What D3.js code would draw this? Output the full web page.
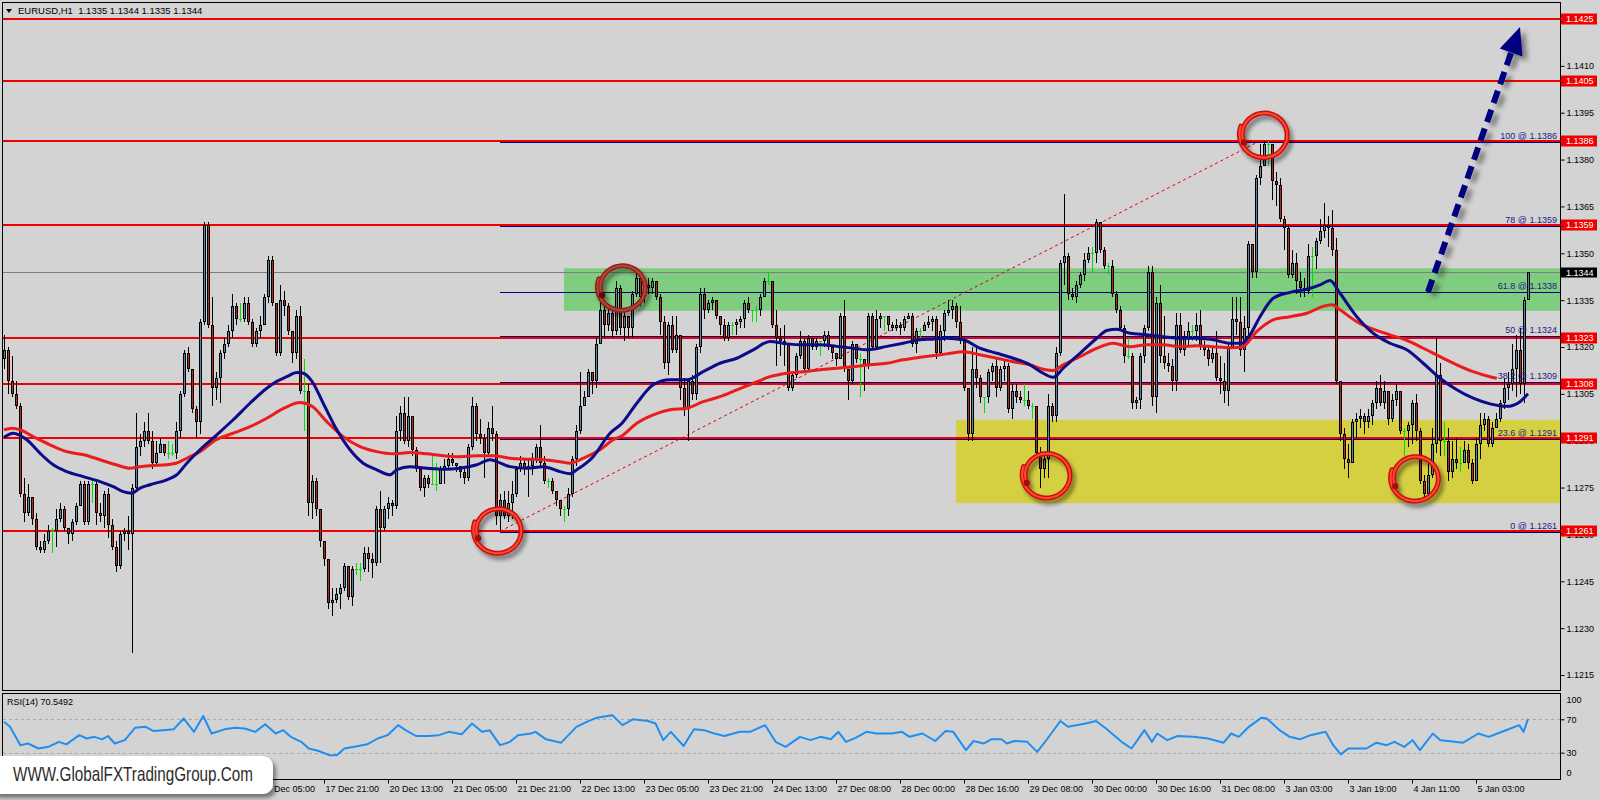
<!DOCTYPE html>
<html><head><meta charset="utf-8">
<script src="https://cdn.jsdelivr.net/npm/d3@7"></script>
<style>
html,body{margin:0;padding:0;background:#d3d3d3;}
svg{display:block;}
text{font-family:"Liberation Sans",Arial,sans-serif;white-space:pre;}
</style></head><body>
<svg id="chart" width="1600" height="800"></svg>
<script>
// ---- DATA (prices in pips above 1.1000, i.e. 319 = 1.1319) ----
const PIP_BASE = 1.1000;
const opens = [
316,319,309,305,301,273,267,272,265,256, 255,258,261,261,265,268,262,260,264,269,
276,264,276,276,267,266,273,263,256,250, 260,261,260,275,288,290,293,290,283,286,
289,286,286,286,293,305,318,313,300,296, 328,359,327,307,310,318,321,325,333,329,
329,334,328,321,325,327,336,348,334,318, 335,333,325,318,330,306,306,270,277,268,
258,252,238,239,241,243,250,240,249,249, 249,254,252,251,268,262,268,270,269,293,
299,290,298,287,281,275,278,276,276,276, 281,282,284,283,282,280,278,288,301,292,
291,286,294,292,266,271,266,270,273,281, 283,281,282,284,288,283,277,277,274,271,
268,268,273,284,293,301,304,312,309,321, 332,327,331,325,339,326,330,326,337,342,
336,340,339,341,336,328,315,327,319,324, 307,300,309,305,320,337,332,334,335,330,
327,323,327,327,328,329,334,332,332,332, 336,341,341,327,323,322,321,307,311,317,
322,313,323,320,322,322,324,320,318,316, 330,313,309,321,316,316,314,330,320,329,
330,330,327,326,327,326,329,330,321,325, 325,327,328,329,318,325,331,332,333,328,
322,307,292,313,310,304,304,312,314,307, 313,314,300,306,304,303,303,301,301,286,
281,284,301,298,318,347,349,337,336,340, 343,348,350,350,360,351,346,346,337,332,
326,317,317,302,303,317,326,344,304,334, 317,315,314,309,327,319,323,325,325,327,
320,319,316,318,310,309,306,320,329,328, 319,326,353,344,374,378,385,385,373,372,
361,358,343,347,341,339,338,349,349,354, 357,359,358,351,309,292,284,283,296,297,
298,296,298,302,307,302,306,297,303,306, 293,293,295,302,293,277,273,279,289,311,
290,290,280,284,283,283,287,283,277,289, 295,297,289,294,297,302,307,308,313,319,
308,335];
const highs = [
324,320,317,309,302,278,276,272,267,258, 260,263,262,268,270,269,262,265,270,277,
277,277,277,277,270,274,275,265,258,261, 262,266,276,299,292,296,299,293,290,291,
289,290,289,296,306,319,320,313,301,329, 360,360,336,312,319,323,327,337,334,334,
336,336,329,326,330,337,349,349,334,340, 338,334,325,332,333,316,308,279,278,268,
258,252,243,243,244,251,250,250,251,251, 256,256,254,269,274,269,272,271,298,301,
304,304,298,288,281,279,279,285,283,282, 284,286,286,283,282,281,289,304,302,297,
292,296,301,293,273,274,274,277,282,285, 284,284,286,289,295,285,278,278,274,271,
269,275,285,295,312,306,313,312,323,335, 333,333,333,341,340,332,330,338,344,343,
342,342,342,341,337,330,328,330,330,324, 310,310,311,321,339,339,335,336,335,330,
329,328,328,329,330,335,336,332,333,337, 342,344,341,332,326,327,321,312,318,325,
323,324,323,323,322,325,325,320,318,331, 335,313,322,321,318,316,331,331,332,331,
330,330,328,329,328,330,331,331,326,326, 328,330,330,330,327,332,335,335,334,333,
323,307,320,320,311,304,313,315,316,314, 316,315,308,308,306,308,306,302,301,288,
285,305,302,320,348,369,350,339,341,344, 350,352,352,361,360,352,347,348,338,333,
327,323,318,304,318,327,346,346,336,340, 330,318,316,331,331,325,328,327,331,332,
322,320,320,325,317,315,321,336,336,336, 330,354,353,375,385,386,386,385,376,374,
362,359,351,350,344,342,353,352,355,361, 366,362,364,355,309,294,289,297,299,300,
299,300,303,309,311,309,306,305,308,306, 294,296,303,305,294,279,283,294,323,315,
296,294,290,291,288,290,289,284,291,299, 299,298,296,299,303,310,312,321,324,326,
336,344];
const lows = [
313,305,304,300,272,264,266,263,255,254, 254,257,254,256,264,261,257,258,263,269,
263,263,270,263,264,262,259,255,248,249, 258,255,222,274,285,288,289,281,282,286,
285,284,285,284,291,304,312,299,291,292, 327,326,301,303,302,316,320,323,327,328,
328,327,320,320,323,327,334,333,317,317, 330,324,315,316,305,293,266,265,266,256,
250,236,234,238,236,242,239,237,247,245, 248,248,246,250,251,261,265,266,268,290,
289,288,285,280,274,272,275,276,274,276, 276,281,282,280,278,276,277,287,290,289,
278,285,290,263,261,265,264,265,272,280, 279,272,279,283,282,276,275,273,269,266,
264,266,272,282,292,301,304,305,307,321, 323,325,323,324,324,322,323,323,336,333,
334,337,337,335,324,313,311,318,318,303, 298,290,303,303,318,329,331,332,329,324,
322,322,324,324,326,326,331,328,328,330, 336,340,326,314,317,314,306,306,310,316,
312,312,319,319,317,320,319,316,314,316, 312,303,308,315,304,306,313,319,319,326,
325,325,325,325,324,325,329,320,318,323, 325,326,325,316,317,322,330,329,326,321,
306,290,290,307,302,299,302,309,304,306, 309,299,297,302,302,301,300,297,285,275,
278,278,296,296,317,340,335,335,334,339, 341,347,344,347,350,345,343,336,331,325,
315,316,300,300,300,315,325,301,299,315, 313,312,306,306,318,317,320,322,322,319,
317,314,315,309,305,302,301,320,324,317, 312,323,342,342,372,378,378,367,365,360,
351,342,342,337,336,336,337,336,345,353, 355,352,349,308,290,281,278,283,291,294,
292,294,295,300,301,300,295,296,301,292, 285,288,289,290,276,271,272,278,286,285,
285,277,278,281,280,283,281,276,277,284, 293,288,288,294,296,300,303,306,304,305,
302,335];
const closes = [
319,309,305,301,273,267,272,265,256,255, 258,261,261,265,268,262,260,264,269,276,
264,276,276,267,266,273,263,256,250,260, 261,260,275,288,290,293,290,283,286,289,
286,286,286,293,305,318,313,300,296,328, 359,327,307,310,318,321,325,333,329,329,
334,328,321,325,327,336,348,334,318,335, 333,325,318,330,306,306,270,277,268,258,
252,238,239,241,243,250,240,249,249,249, 254,252,251,268,262,268,270,269,293,299,
290,298,287,281,275,278,276,276,276,281, 282,284,283,282,280,278,288,301,292,291,
286,294,292,266,271,266,270,273,281,283, 281,282,284,288,283,277,277,274,271,268,
268,273,284,293,301,304,312,309,321,332, 327,331,325,339,326,330,326,337,342,336,
340,339,341,336,328,315,327,319,324,307, 300,309,305,320,337,332,334,335,330,327,
323,327,327,328,329,334,332,332,332,336, 341,341,327,323,322,321,307,311,317,322,
313,323,320,322,322,324,320,318,316,330, 313,309,321,316,316,314,330,320,329,330,
330,327,326,327,326,329,330,321,325,325, 327,328,329,318,325,331,332,333,328,322,
307,292,313,310,304,304,312,314,307,313, 314,300,306,304,303,303,301,301,286,281,
284,301,298,318,347,349,337,336,340,343, 348,350,350,360,351,346,346,337,332,326,
317,317,302,303,317,326,344,304,334,317, 315,314,309,327,319,323,325,325,327,320,
319,316,318,310,309,306,320,329,328,319, 326,353,344,374,378,385,385,373,372,361,
358,343,347,341,339,338,349,349,354,357, 359,358,351,309,292,284,283,296,297,298,
296,298,302,307,302,306,297,303,306,293, 293,295,302,293,277,273,279,289,311,290,
290,280,284,283,283,287,283,277,289,295, 297,289,294,297,302,307,308,313,319,308,
335,344];

// moving averages: [bar index, pips]
const maBlue = [[0,291.1],[2.3,292.4],[5.7,290.3],[9,286],[12.3,282.3],[15.7,280.1],[19.8,278.5],[24,276.9],[27.3,275.3],[29.8,273.7],[32,273.2],[34,274.8],[36.5,275.9],[40.7,277.5],[43.2,279.1],[45.7,282.8],[49,287.1],[53.2,291.9],[57.3,296.7],[61.5,302],[65.7,306.8],[68.2,309],[70.7,310.5],[73.2,311.8],[74.8,311.6],[77,309],[79.8,302],[83.2,293.5],[86.5,287.1],[89.8,282.8],[93.2,280.7],[96.5,279.1],[98.2,280.7],[101.5,281.7],[105.7,281.2],[109.8,280.9],[114,281.2],[118.2,282.3],[121.5,283.9],[123.2,283.3],[126.5,281.7],[130.7,281.2],[134.8,281.7],[139,280.1],[141.5,279.4],[143.2,280.7],[147.3,284.9],[151.5,292.4],[154.5,295.6],[158.2,302],[162.3,307.9],[166.5,309.5],[170.7,309.5],[174.8,312.1],[179,314.8],[183.2,316.4],[187.3,319.1],[191.5,321.8],[195.7,321],[199.8,320.7],[204,320.7],[208.2,320.2],[212.3,319.6],[215.7,319.1],[220.7,320.2],[224.8,321.2],[229,322.3],[232,322.5],[235.7,322.8],[239.8,322.3],[244,319.6],[248.2,318],[252.3,316.4],[256.5,314.3],[259.8,311.6],[262.3,310.3],[264.8,313.2],[269,318],[273.2,322.8],[275.7,325.3],[278.2,325.7],[281.5,324.4],[285.7,323.9],[289.8,323.3],[294,322.8],[298.2,322.8],[302.3,322.3],[306.5,321.2],[309.5,321.2],[311.5,323.9],[314,329.7],[317.3,335.6],[321.5,337.5],[325.7,338.5],[329,339.9],[331.5,341.3],[334,337.2],[338.2,329.7],[342.3,324.4],[346.5,321.2],[350.7,319.1],[354.8,314.8],[359,310],[363.2,306.3],[367.3,303.6],[371.5,301.8],[375.7,301],[379,302.5],[381,305]];
const maRed = [[0,293.5],[2,294],[4,293.5],[7.3,291.3],[11.5,288.7],[15.7,286.5],[20,285.5],[24,283.9],[28,282.3],[31.5,281.2],[34,281.7],[36.5,282],[40.7,282.3],[43,282.8],[46.5,284.9],[49,286.5],[53,290.3],[57.3,292.4],[61.5,294.5],[65.7,297.2],[70,300.4],[74,302.2],[77,301],[80.7,296.1],[84.8,291.3],[89,288.1],[93.2,286.5],[97.3,285.8],[101.5,286.2],[105.7,285.8],[109.8,285.2],[114,284.9],[118.2,285.2],[122.3,285.2],[126.5,284.4],[130.7,284.1],[134.8,283.9],[139,283.3],[141.5,282.8],[144.8,284.4],[149,287.1],[152.3,290.3],[154.5,291.6],[158.2,295.6],[162.3,298.3],[166.5,299.9],[170.7,300.4],[174.8,302.5],[179,304.1],[183.2,306.3],[187.3,308.4],[191.5,310.5],[195.7,311.6],[199.8,312.1],[204,312.7],[208.2,313.2],[212.3,313.7],[216.5,314.3],[220.7,314.8],[224.8,315.9],[229,316.7],[232,317.2],[235.7,317.8],[239.8,318.5],[244,317.5],[248.2,316.4],[252.3,315.3],[256.5,314.3],[259.8,312.9],[262.3,312.5],[264.8,314.3],[269,316.9],[273.2,319.6],[277.3,321.2],[281.5,320.1],[285.7,320.7],[289.8,320.7],[294,320.1],[298.2,320.4],[302.3,320.1],[306.5,319.8],[309.5,320],[313.2,325],[317.3,328.7],[321.5,329.7],[325.7,330.8],[329.8,333],[332,333.5],[334,331.9],[338.2,328.1],[342.3,325.7],[346.5,323.9],[350.7,322.1],[354.8,319.6],[359,316.9],[363.2,314.3],[367.3,312.1],[371.5,310.5],[373.2,310]];
// RSI(14): [bar index, value]
const rsi = [[0,67],[1.5,61],[4.1,39],[6,41],[8.6,35],[11.1,37],[13.7,43],[15.6,40],[18.8,51],[20.7,47],[22.6,49],[24.5,46],[26,50],[27.7,41],[30.2,45],[32.8,60],[35.4,61],[37.3,56],[39.8,57],[42.4,58],[44.9,71],[47.5,55],[49.8,74],[51.9,53],[55.1,58],[57.7,60],[60.2,59],[62.8,55],[65.3,64],[67.9,53],[69.8,57],[71.7,49],[74.3,43],[76.2,35],[78.7,32],[81.3,27],[83.2,27],[85.1,35],[87.6,37],[90.8,40],[93.4,47],[95.9,51],[98.5,63],[100.4,57],[103,50],[106.1,50],[108.7,51],[111.2,55],[114.4,52],[117,65],[119.5,55],[121.4,57],[124,39],[126.5,43],[128.5,51],[131.7,53],[132.9,55],[135.5,46],[139.3,42],[143.1,61],[145.7,67],[148.2,72],[152.1,75],[154.6,63],[157.2,70],[161,68],[162.9,65],[164.8,45],[166.7,55],[169.9,38],[172.5,58],[175,57],[177.6,53],[180.1,50],[184,55],[186.5,55],[190.3,63],[192.9,43],[195.4,37],[199,49],[201.6,45],[204.1,49],[206.7,46],[208.6,55],[210.5,43],[213,48],[215.6,55],[218.1,53],[222,53],[224.5,55],[226.4,49],[229.6,53],[232.8,44],[235.4,56],[237.3,55],[240.5,33],[242.4,44],[244.9,41],[246.8,46],[249.4,46],[250.7,41],[252.6,44],[255.8,43],[258.3,31],[260.9,47],[264.1,68],[266,61],[270.4,65],[273,68],[275.5,59],[279.4,43],[281.9,35],[285.1,57],[287,43],[288.3,53],[290.8,45],[293.4,50],[297.2,49],[301,47],[304.9,42],[306.8,53],[308.7,49],[311.2,61],[314.4,72],[315.7,71],[318.9,57],[321.4,49],[324,46],[326.6,51],[330.4,55],[332.3,39],[334.2,28],[336.1,35],[340.6,35],[343.1,42],[345.7,39],[347.6,43],[350.1,37],[352.1,45],[354,33],[357.2,53],[359.1,45],[361,44],[364.8,42],[368.6,53],[371.2,49],[375,56],[378.8,63],[379.9,55],[381,70.5492]];
const rsiLastValue = 70.5492;

const levelPrices = [1.1425,1.1405,1.1386,1.1359,1.1323,1.1308,1.1291,1.1261];
const fibPercents = ["0","23.6","38.2","50","61.8","78","100"];
const fibPrices   = [1.1261,1.1291,1.1309,1.1324,1.1338,1.1359,1.1386];
const fibAnchorBars = [124, 314];
const bidPrice = 1.1344;
const greenZone = {fromBar:140, top:1.13452, bottom:1.13316};
const yellowZone = {fromBar:238, top:1.12967, bottom:1.12700};
const priceTicks = [1.1215,1.1230,1.1245,1.1260,1.1275,1.1290,1.1305,1.1320,1.1335,1.1350,1.1365,1.1380,1.1395,1.1410,1.1425];
const timeBars = [64,80,96,112,128,144,160,176,192,208,224,240,256,272,288,304,320,336,352,368];
const timeLabels = ["17 Dec 05:00","17 Dec 21:00","20 Dec 13:00","21 Dec 05:00","21 Dec 21:00","22 Dec 13:00","23 Dec 05:00","23 Dec 21:00","24 Dec 13:00","27 Dec 08:00","28 Dec 00:00","28 Dec 16:00","29 Dec 08:00","30 Dec 00:00","30 Dec 16:00","31 Dec 08:00","3 Jan 03:00","3 Jan 19:00","4 Jan 11:00","5 Jan 03:00"];
const rsiTicks = [100,70,30,0];
const rsiLevels = [70,30];
const circleMarks = [ // annotation circles: [centerBar, centerPrice, dark?]
  [123.5,1.12613,0],[154.5,1.13391,1],[260.7,1.12790,0],[315,1.13880,0],[352.8,1.12780,0]];

// ---- CHART ----
const P = v => PIP_BASE + v/10000;
const svg = d3.select('#chart');
const xs = d3.scaleLinear().domain([0,381]).range([4,1528]);
const ys = d3.scaleLinear().domain([1.1215,1.1425]).range([675,19]);
const rs = d3.scaleLinear().domain([0,100]).range([777.7,694.3]);
const R = Math.round;
const PLOT_R = 1560;

const defs = svg.append('defs');
defs.append('clipPath').attr('id','mainclip').append('rect').attr('x',3).attr('y',3).attr('width',PLOT_R-3).attr('height',687);
defs.append('clipPath').attr('id','rsiclip').append('rect').attr('x',3).attr('y',694).attr('width',PLOT_R-3).attr('height',85);
const f1 = defs.append('filter').attr('id','shadow').attr('x','-40%').attr('y','-40%').attr('width','180%').attr('height','180%');
f1.append('feDropShadow').attr('dx',3).attr('dy',4).attr('stdDeviation',2.2).attr('flood-color','#000').attr('flood-opacity',0.45);
const f2 = defs.append('filter').attr('id','blur').attr('x','-20%').attr('y','-20%').attr('width','140%').attr('height','140%');
f2.append('feGaussianBlur').attr('stdDeviation',2.5);

svg.append('rect').attr('width',1600).attr('height',800).attr('fill','#d3d3d3');

const main = svg.append('g').attr('clip-path','url(#mainclip)');

// zones
main.append('rect').attr('x',xs(greenZone.fromBar)).attr('y',ys(greenZone.top))
  .attr('width',PLOT_R-xs(greenZone.fromBar)).attr('height',ys(greenZone.bottom)-ys(greenZone.top)).attr('fill','#7fcd7f');
main.append('rect').attr('x',xs(yellowZone.fromBar)).attr('y',ys(yellowZone.top))
  .attr('width',PLOT_R-xs(yellowZone.fromBar)).attr('height',ys(yellowZone.bottom)-ys(yellowZone.top)).attr('fill','#d5d042');

// fib level lines (navy)
main.selectAll('line.fib').data(fibPrices).join('line').attr('class','fib')
  .attr('x1',xs(fibAnchorBars[0])).attr('x2',PLOT_R)
  .attr('y1',d=>R(ys(d))+1.5).attr('y2',d=>R(ys(d))+1.5).attr('stroke','#000080').attr('stroke-width',1);
// red horizontal levels
main.selectAll('line.lvl').data(levelPrices).join('line').attr('class','lvl')
  .attr('x1',3).attr('x2',PLOT_R).attr('y1',d=>R(ys(d))).attr('y2',d=>R(ys(d)))
  .attr('stroke','#f00000').attr('stroke-width',2);
// bid line
main.append('line').attr('x1',3).attr('x2',PLOT_R).attr('y1',R(ys(bidPrice))+0.5).attr('y2',R(ys(bidPrice))+0.5)
  .attr('stroke','#7c7c8c').attr('stroke-width',1);
// fib trend (dotted)
main.append('line').attr('x1',xs(fibAnchorBars[0])).attr('y1',ys(fibPrices[0]))
  .attr('x2',xs(fibAnchorBars[1])).attr('y2',ys(fibPrices[6]))
  .attr('stroke','#e00000').attr('stroke-width',1).attr('stroke-dasharray','3,3');

// candles
const bars = closes.map((c,i)=>({i,o:opens[i],h:highs[i],l:lows[i],c}));
const gC = main.append('g').attr('shape-rendering','crispEdges');
const LIME = '#00e000';
const top_ = d=>R(ys(P(Math.max(d.o,d.c)))), bot_ = d=>R(ys(P(Math.min(d.o,d.c))));
gC.selectAll('rect.wick').data(bars).join('rect').attr('class','wick')
  .attr('x',d=>R(xs(d.i))).attr('width',1)
  .attr('y',d=>R(ys(P(d.h))))
  .attr('height',d=>Math.max(1,R(ys(P(d.l)))-R(ys(P(d.h)))))
  .attr('fill',d=>d.o===d.c?LIME:'#000');
const nd = bars.filter(d=>d.o!==d.c);
gC.selectAll('rect.body').data(nd).join('rect').attr('class','body')
  .attr('x',d=>R(xs(d.i))-1).attr('width',3)
  .attr('y',top_).attr('height',d=>Math.max(1,bot_(d)-top_(d)))
  .attr('fill','#000');
gC.selectAll('rect.fill').data(nd.filter(d=>bot_(d)-top_(d)>2)).join('rect').attr('class','fill')
  .attr('x',d=>R(xs(d.i))).attr('width',1)
  .attr('y',d=>top_(d)+1).attr('height',d=>bot_(d)-top_(d)-2)
  .attr('fill',d=>d.c>d.o?'#5b86a6':'#b02a22');
gC.selectAll('rect.doji').data(bars.filter(d=>d.o===d.c)).join('rect').attr('class','doji')
  .attr('x',d=>R(xs(d.i))-1).attr('width',3).attr('y',d=>R(ys(P(d.o)))).attr('height',1).attr('fill',LIME);

// moving averages
const maLine = d3.line().x(d=>xs(d[0])).y(d=>ys(P(d[1]))).curve(d3.curveMonotoneX);
main.append('path').attr('d',maLine(maRed)).attr('fill','none').attr('stroke','#ea1c1c').attr('stroke-width',3).attr('stroke-linejoin','round');
main.append('path').attr('d',maLine(maBlue)).attr('fill','none').attr('stroke','#0c0c88').attr('stroke-width',3).attr('stroke-linejoin','round');

// fib labels
svg.selectAll('text.fibl').data(fibPrices).join('text').attr('class','fibl')
  .attr('x',1557).attr('y',d=>R(ys(d))-2).attr('text-anchor','end')
  .attr('font-size',9).attr('fill','#1a1a8a')
  .text((d,i)=>fibPercents[i]+' @ '+d.toFixed(4));

// annotation circles
const ann = svg.append('g').attr('filter','url(#shadow)');
circleMarks.forEach(([b,pr,dark])=>{
  const cx = xs(b), cy = ys(pr), r = 24;
  const pts = d3.range(0,1.13,0.02).map(t=>{
    const a = 2.75 + t*2*Math.PI;
    const rr = r*(0.9+0.12*t);
    return [cx+rr*Math.cos(a), cy+rr*0.96*Math.sin(a)];
  });
  const d = d3.line().curve(d3.curveBasis)(pts);
  const g = ann.append('g');
  g.append('path').attr('d',d).attr('fill','none').attr('stroke',dark?'#8e2018':'#c81010').attr('stroke-width',5).attr('stroke-linecap','round');
  g.append('path').attr('d',d).attr('fill','none').attr('stroke',dark?'#b8433a':'#ff4a30').attr('stroke-width',2).attr('stroke-linecap','round');
  g.append('circle').attr('cx',pts[0][0]).attr('cy',pts[0][1]).attr('r',3.2).attr('fill',dark?'#5a1010':'#a01010');
});

// dashed arrow
const aS=[1428,292], aT=[1520,27];
const dx=aT[0]-aS[0], dy=aT[1]-aS[1], L=Math.hypot(dx,dy), ux=dx/L, uy=dy/L;
const bc=[aT[0]-ux*27, aT[1]-uy*27];
const hp=[aT,[bc[0]-uy*12, bc[1]+ux*12],[bc[0]+uy*12, bc[1]-ux*12]];
const arrowG = svg.append('g');
const sh = arrowG.append('g').attr('filter','url(#blur)').attr('opacity',0.55).attr('transform','translate(5,4)');
sh.append('line').attr('x1',aS[0]).attr('y1',aS[1]).attr('x2',bc[0]).attr('y2',bc[1]).attr('stroke','#333').attr('stroke-width',6).attr('stroke-dasharray','13,7');
sh.append('path').attr('d','M'+hp.map(p=>p.join(',')).join('L')+'Z').attr('fill','#333');
arrowG.append('line').attr('x1',aS[0]).attr('y1',aS[1]).attr('x2',bc[0]).attr('y2',bc[1]).attr('stroke','#000080').attr('stroke-width',6).attr('stroke-dasharray','13,7');
arrowG.append('path').attr('d','M'+hp.map(p=>p.join(',')).join('L')+'Z').attr('fill','#000080');

// frames
svg.append('rect').attr('x',2.5).attr('y',2.5).attr('width',1558).attr('height',688).attr('fill','none').attr('stroke','#000');
svg.append('rect').attr('x',2.5).attr('y',693.5).attr('width',1558).attr('height',86).attr('fill','none').attr('stroke','#000');

// price axis
const yAx = svg.append('g').attr('transform','translate(1560.5,0)')
  .call(d3.axisRight(ys).tickValues(priceTicks).tickFormat(d3.format('.4f')).tickSize(4).tickPadding(2));
yAx.select('.domain').remove();
yAx.attr('font-family','Liberation Sans, Arial, sans-serif').attr('font-size',9).attr('color','#000');
yAx.selectAll('text').attr('x',6);
// red level labels
const lab = svg.selectAll('g.lab').data(levelPrices).join('g').attr('class','lab')
  .attr('transform',d=>`translate(1561,${R(ys(d))})`);
lab.append('rect').attr('x',0).attr('y',-5.5).attr('width',36).attr('height',11).attr('fill','#f00000');
lab.append('text').attr('x',5).attr('y',3.3).attr('font-size',9).attr('fill','#fff').text(d=>d.toFixed(4));
const bl = svg.append('g').attr('transform',`translate(1561,${R(ys(bidPrice))})`);
bl.append('rect').attr('x',0).attr('y',-4.5).attr('width',36).attr('height',10).attr('fill','#000');
bl.append('text').attr('x',5).attr('y',3.6).attr('font-size',9).attr('fill','#fff').text(bidPrice.toFixed(4));

// header
svg.append('path').attr('d','M6,9L12,9L9,13Z').attr('fill','#000');
svg.append('text').attr('x',18).attr('y',14).attr('font-size',9.5).attr('fill','#000')
  .text('EURUSD,H1  '+[opens[381],highs[381],lows[381],closes[381]].map(v=>P(v).toFixed(4)).join(' '));

// RSI panel
const rg = svg.append('g').attr('clip-path','url(#rsiclip)');
rg.selectAll('line.rl').data(rsiLevels).join('line').attr('class','rl')
  .attr('x1',3).attr('x2',PLOT_R).attr('y1',d=>R(rs(d))+0.5).attr('y2',d=>R(rs(d))+0.5)
  .attr('stroke','#a8a8a8').attr('stroke-dasharray','3,3');
rg.append('path').attr('d',d3.line().x(d=>xs(d[0])).y(d=>rs(d[1]))(rsi))
  .attr('fill','none').attr('stroke','#1e8ff0').attr('stroke-width',2).attr('stroke-linejoin','round');
svg.append('text').attr('x',7).attr('y',705).attr('font-size',9).attr('fill','#000').text('RSI(14) '+rsiLastValue.toFixed(4));
const rAx = svg.append('g').attr('transform','translate(1560.5,0)')
  .call(d3.axisRight(rs).tickValues(rsiTicks).tickFormat(d3.format('d')).tickSize(4).tickPadding(2));
rAx.select('.domain').remove();
rAx.attr('font-family','Liberation Sans, Arial, sans-serif').attr('font-size',9).attr('color','#000');
rAx.selectAll('text').attr('x',6).attr('dy',d=>d===100?'0.95em':(d===0?'-0.3em':'0.32em'));
rAx.selectAll('line').filter(d=>d===100||d===0).remove();

// time axis
const xAx = svg.append('g').attr('transform','translate(0,779.5)')
  .call(d3.axisBottom(xs).tickValues(timeBars).tickFormat((d,i)=>timeLabels[i]).tickSize(4));
xAx.select('.domain').remove();
xAx.attr('font-family','Liberation Sans, Arial, sans-serif').attr('font-size',9).attr('color','#000');
xAx.selectAll('text').attr('text-anchor','start').attr('x',1).attr('y',12).attr('dy',0);

// watermark
const wm = svg.append('g');
wm.append('rect').attr('x',-12).attr('y',756).attr('width',285).attr('height',38).attr('rx',10)
  .attr('fill','#fff').attr('filter','url(#shadow)');
wm.append('text').attr('x',13).attr('y',781).attr('font-family','Liberation Serif, DejaVu Serif, serif')
  .attr('font-size',21).attr('fill','#2b2b2b').attr('textLength',240).attr('lengthAdjust','spacingAndGlyphs')
  .text('WWW.GlobalFXTradingGroup.Com');
</script>
</body></html>
